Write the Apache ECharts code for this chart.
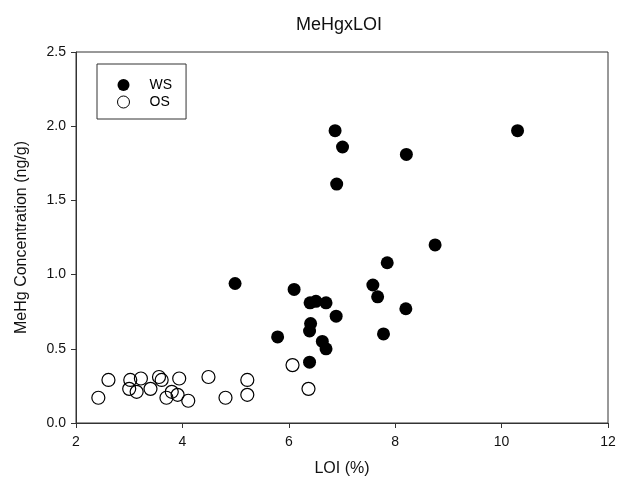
<!DOCTYPE html>
<html>
<head>
<meta charset="utf-8">
<script src="https://cdn.jsdelivr.net/npm/echarts@6/dist/echarts.min.js"></script>
<style>html,body{margin:0;padding:0;background:#fff}#c{width:619px;height:489px}</style>
</head>
<body>
<div id="c"></div>
<script>
const wsX = [6.87, 7.01, 8.21, 6.90, 10.30, 8.75, 7.85, 4.99, 6.10, 7.58, 7.67, 6.40, 6.51, 6.70, 6.89, 8.20, 6.41, 6.39, 5.79, 7.78, 6.63, 6.70, 6.39];
const wsY = [1.97, 1.86, 1.81, 1.61, 1.97, 1.20, 1.08, 0.94, 0.90, 0.93, 0.85, 0.81, 0.82, 0.81, 0.72, 0.77, 0.67, 0.62, 0.58, 0.60, 0.55, 0.50, 0.41];
const osX = [2.42, 2.61, 3.02, 3.00, 3.14, 3.22, 3.40, 3.56, 3.61, 3.70, 3.80, 3.91, 3.94, 4.11, 4.49, 4.81, 5.22, 5.22, 6.07, 6.37];
const osY = [0.17, 0.29, 0.29, 0.23, 0.21, 0.30, 0.23, 0.31, 0.29, 0.17, 0.21, 0.19, 0.30, 0.15, 0.31, 0.17, 0.29, 0.19, 0.39, 0.23];
const seriesNames = ['WS', 'OS'];
const titleText = 'MeHgxLOI';
const xName = 'LOI (%)';
const yName = 'MeHg Concentration (ng/g)';

const zip = (a, b) => a.map((v, i) => [v, b[i]]);
const font = 'Liberation Sans, Arial, sans-serif';
const chart = echarts.init(document.getElementById('c'), null, {renderer: 'canvas'});
chart.setOption({
  animation: false,
  backgroundColor: '#fff',
  title: {
    text: titleText, left: 291, top: 11,
    textStyle: {fontFamily: font, fontSize: 18, fontWeight: 'normal', color: '#111'}
  },
  legend: {
    left: 97, top: 64, orient: 'vertical',
    padding: [14, 14, 10, 20], itemGap: 3,
    itemWidth: 42, itemHeight: 12,
    borderColor: '#333', borderWidth: 1,
    textStyle: {fontFamily: font, fontSize: 14, color: '#000'},
    data: [
      {name: seriesNames[0], icon: 'circle', itemStyle: {color: '#000', borderWidth: 0, opacity: 1}},
      {name: seriesNames[1], icon: 'circle', itemStyle: {color: '#fff', borderColor: '#000', borderWidth: 1, opacity: 1}}
    ]
  },
  grid: {left: 76, right: 11, top: 52, bottom: 66, show: true, borderColor: '#333', borderWidth: 1, containLabel: false},
  xAxis: {
    type: 'value', min: 2, max: 12, interval: 2,
    name: xName, nameLocation: 'middle', nameGap: 38,
    nameTextStyle: {fontFamily: font, fontSize: 16, color: '#111'},
    axisLine: {show: true, lineStyle: {color: '#333', width: 1}},
    axisTick: {show: true, inside: false, length: 5, lineStyle: {color: '#333'}},
    axisLabel: {fontFamily: font, fontSize: 14, color: '#111', margin: 12},
    splitLine: {show: false}
  },
  yAxis: {
    type: 'value', min: 0, max: 2.5, interval: 0.5,
    name: yName, nameLocation: 'middle', nameGap: 46, nameRotate: 90,
    nameTextStyle: {fontFamily: font, fontSize: 16, color: '#111'},
    axisLine: {show: true, lineStyle: {color: '#333', width: 1}},
    axisTick: {show: true, inside: false, length: 5, lineStyle: {color: '#333'}},
    axisLabel: {fontFamily: font, fontSize: 14, color: '#111', margin: 10, formatter: v => v.toFixed(1)},
    splitLine: {show: false}
  },
  series: [
    {
      name: seriesNames[0], type: 'scatter', symbol: 'circle', symbolSize: 13,
      itemStyle: {color: '#000', borderWidth: 0, opacity: 1}, data: zip(wsX, wsY), z: 3
    },
    {
      name: seriesNames[1], type: 'scatter', symbol: 'circle', symbolSize: 13,
      itemStyle: {color: 'rgba(255,255,255,0)', borderColor: '#000', borderWidth: 1.2, opacity: 1}, data: zip(osX, osY), z: 2
    }
  ]
});
</script>
</body>
</html>
